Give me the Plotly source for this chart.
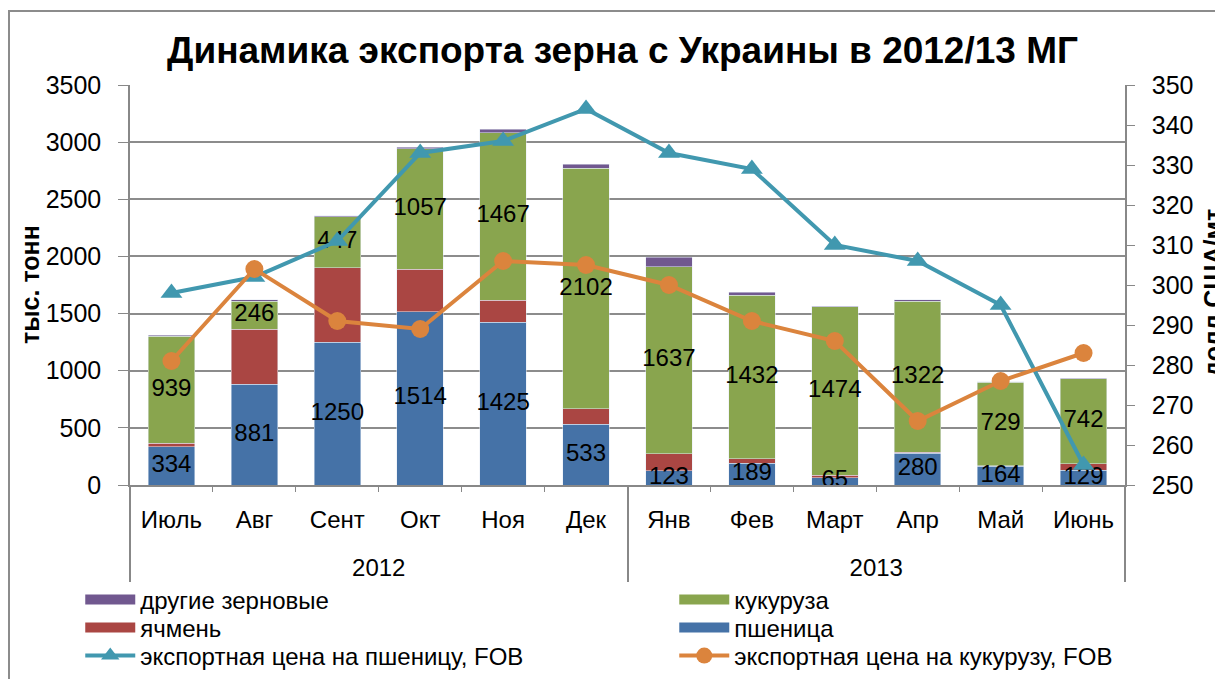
import plotly.graph_objects as go

years = ["<br>2012"] * 6 + ["<br>2013"] * 6
months = ["Июль", "Авг", "Сент", "Окт", "Ноя", "Дек", "Янв", "Фев", "Март", "Апр", "Май", "Июнь"]

wheat = [334, 881, 1250, 1514, 1425, 533, 123, 189, 65, 280, 164, 129]
barley = [30, 481, 652, 373, 191, 135, 151, 41, 20, 5, 5, 57]
corn = [939, 246, 447, 1057, 1467, 2102, 1637, 1432, 1474, 1322, 729, 742]
other = [7, 11, 5, 10, 30, 35, 80, 25, 7, 15, 5, 5]

wheat_price = [298, 302, 311, 333, 336, 344, 333, 329, 310, 306, 295, 255]
corn_price = [281, 304, 291, 289, 306, 305, 300, 291, 286, 266, 276, 283]

C_WHEAT = "#4572A7"
C_BARLEY = "#AA4643"
C_CORN = "#89A54E"
C_OTHER = "#71588F"
C_WP = "#4198AF"
C_CP = "#DB843D"

FONT = "Liberation Sans, Arial, sans-serif"
x = [years, months]

fig = go.Figure()
fig.add_bar(x=x, y=wheat, name="пшеница", marker_color=C_WHEAT, showlegend=False)
fig.add_bar(x=x, y=barley, name="ячмень", marker_color=C_BARLEY, showlegend=False)
fig.add_bar(x=x, y=corn, name="кукуруза", marker_color=C_CORN, showlegend=False)
fig.add_bar(x=x, y=other, name="другие зерновые", marker_color=C_OTHER, showlegend=False)

# legend entries for bars drawn as wide rectangles (Excel-style swatches)
legend_swatches = [
    ("другие зерновые", C_OTHER, "legend"),
    ("кукуруза", C_CORN, "legend2"),
    ("ячмень", C_BARLEY, "legend3"),
    ("пшеница", C_WHEAT, "legend4"),
]
for name, col, leg in legend_swatches:
    fig.add_scatter(x=[None], y=[None], mode="lines", name=name,
                    line=dict(color=col, width=13), legend=leg, hoverinfo="skip")

# data labels (centred in segments)
wheat_mid = [w / 2 for w in wheat]
corn_mid = [w + b + c / 2 for w, b, c in zip(wheat, barley, corn)]
fig.add_scatter(x=x, y=wheat_mid, mode="text", text=[str(v) for v in wheat],
                textfont=dict(size=24, color="black", family=FONT), showlegend=False,
                hoverinfo="skip")
fig.add_scatter(x=x, y=corn_mid, mode="text", text=[str(v) for v in corn],
                textfont=dict(size=24, color="black", family=FONT), showlegend=False,
                hoverinfo="skip")

fig.add_scatter(x=x, y=wheat_price, yaxis="y2", mode="lines+markers",
                name="экспортная цена на пшеницу, FOB",
                line=dict(color=C_WP, width=4),
                marker=dict(symbol="triangle-up", size=19, color=C_WP),
                legend="legend5")
fig.add_scatter(x=x, y=corn_price, yaxis="y2", mode="lines+markers",
                name="экспортная цена на кукурузу, FOB",
                line=dict(color=C_CP, width=4),
                marker=dict(symbol="circle", size=18, color=C_CP),
                legend="legend6")

W, H = 1215, 671
L, T, PW, PH = 122, 77, 995, 400


def leg(xpos, row_y):
    return dict(orientation="v", yanchor="middle", y=(T + PH - row_y) / PH,
                xanchor="left", x=xpos, font=dict(size=24, family=FONT), itemwidth=50,
                tracegroupgap=0, bgcolor="rgba(0,0,0,0)")


COL1, COL2 = -0.05, 0.547
ROWS = [592, 620, 648]

fig.update_layout(
    width=W, height=H,
    margin=dict(l=L, r=W - L - PW, t=T, b=H - T - PH, autoexpand=False),
    paper_bgcolor="white", plot_bgcolor="white",
    font=dict(family=FONT, size=24, color="black"),
    barmode="stack", bargap=0.44,
    showlegend=True,
    title=dict(text="<b>Динамика экспорта зерна с Украины в 2012/13 МГ</b>",
               x=0.495, xref="paper", y=1 - 42 / H, yref="container", yanchor="middle",
               font=dict(size=37, family=FONT, color="black")),
    xaxis=dict(type="multicategory", range=[-0.5, 11.5], showline=True,
               linecolor="#888888", linewidth=1.5,
               ticks="outside", tickcolor="#888888", showdividers=True,
               dividercolor="#888888", dividerwidth=1.5, ticklabelstandoff=12,
               tickfont=dict(size=24, family=FONT)),
    yaxis=dict(range=[0, 3500], dtick=500, showgrid=True, gridcolor="#8c8c8c", gridwidth=1.5,
               showline=True, linecolor="#888888", linewidth=1.5, ticks="outside",
               tickcolor="#888888", ticklen=10, ticklabelstandoff=12,
               tickfont=dict(size=25, family=FONT), zeroline=False),
    yaxis2=dict(range=[250, 350], dtick=10, overlaying="y", side="right", showgrid=False,
                showline=True, linecolor="#888888", linewidth=1.5, ticks="outside",
                tickcolor="#888888", ticklen=8, ticklabelstandoff=12,
                tickfont=dict(size=25, family=FONT), zeroline=False),
    legend=leg(COL1, ROWS[0]),
    legend2=leg(COL2, ROWS[0]),
    legend3=leg(COL1, ROWS[1]),
    legend4=leg(COL2, ROWS[1]),
    legend5=leg(COL1, ROWS[2]),
    legend6=leg(COL2, ROWS[2]),
    annotations=[
        dict(text="<b>тыс. тонн</b>", xref="paper", yref="paper", x=(22 - L) / PW, y=0.5,
             textangle=-90, showarrow=False, xanchor="center", yanchor="middle",
             font=dict(size=25, family=FONT)),
        dict(text="<b>долл.США/мт</b>", xref="paper", yref="paper", x=(1205 - L) / PW,
             y=0.48, textangle=-90, showarrow=False, xanchor="center", yanchor="middle",
             font=dict(size=25, family=FONT)),
    ],
    shapes=[dict(type="rect", xref="paper", yref="paper", x0=(1 - L) / PW, x1=1.2,
                 y0=-0.6, y1=(T + PH - 3) / PH, line=dict(color="#8c8c8c", width=2))],
)

fig.write_html("out.html")
